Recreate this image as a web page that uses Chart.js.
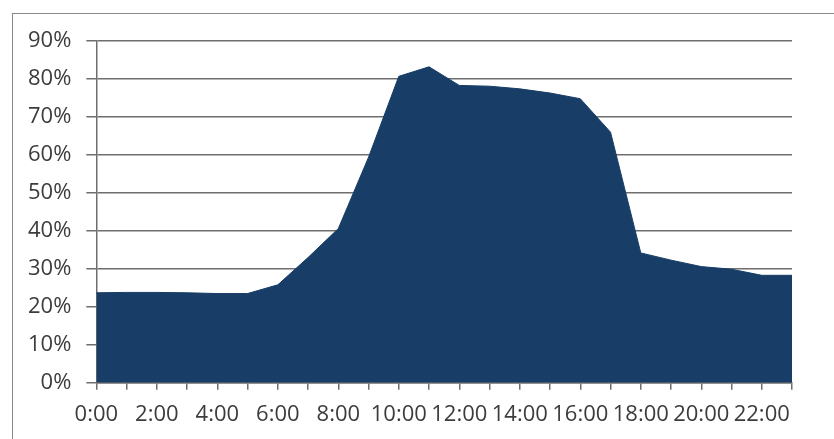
<!DOCTYPE html>
<html>
<head>
<meta charset="utf-8">
<script src="https://cdn.jsdelivr.net/npm/chart.js@4"></script>
<style>
    body { margin: 0; background: #fff; overflow: hidden; }
    #marco {
        position: absolute; left: 12px; top: 13px;
        width: 900px; height: 500px;
        border: 1px solid #8a8a8a;
    }
    #grafica { position: absolute; left: 0; top: 0; }
</style>
</head>
<body>
<div id="marco"></div>
<canvas id="grafica" width="834" height="439"></canvas>
<script>
// Horas del día (una etiqueta cada 2 horas)
const horas = ["0:00", "1:00", "2:00", "3:00", "4:00", "5:00", "6:00", "7:00", "8:00", "9:00", "10:00", "11:00",
    "12:00", "13:00", "14:00", "15:00", "16:00", "17:00", "18:00", "19:00", "20:00", "21:00", "22:00", "23:00"];

// Porcentaje por hora
const porcentajes = [23.7, 23.8, 23.8, 23.7, 23.5, 23.5, 25.8, 33.0, 40.6, 59.4, 80.7, 83.2,
    78.3, 78.1, 77.4, 76.3, 74.8, 66.0, 34.2, 32.3, 30.6, 29.9, 28.3, 28.3];

// Marcas del eje Y
const marcasY = [0, 10, 20, 30, 40, 50, 60, 70, 80, 90];

const colorLinea = '#6e6e6e';
const fuente = { family: 'Open Sans', size: 22 };

const ctx = document.getElementById('grafica');
new Chart(ctx, {
    type: 'line',
    data: {
        labels: horas,
        datasets: [{
            data: porcentajes,
            backgroundColor: '#183e67',
            borderColor: '#183e67',
            borderWidth: 1,
            fill: 'origin',
            pointRadius: 0,
            tension: 0
        }]
    },
    options: {
        responsive: false,
        animation: false,
        layout: { padding: { left: 13, right: 42, top: 41, bottom: 0 } },
        plugins: { legend: { display: false }, tooltip: { enabled: false } },
        scales: {
            x: {
                offset: false,
                grid: { drawOnChartArea: false, drawTicks: true, tickLength: 7, color: colorLinea, lineWidth: 1.5 },
                border: { color: colorLinea, width: 1.5 },
                ticks: {
                    autoSkip: false,
                    maxRotation: 0,
                    padding: 18,
                    color: '#3c3c3c',
                    font: { family: 'Open Sans', size: 22, lineHeight: 0.6 },
                    callback: (v, i) => i % 2 === 0 ? horas[i] : ''
                }
            },
            y: {
                min: marcasY[0],
                max: marcasY[marcasY.length - 1],
                afterBuildTicks: eje => { eje.ticks = marcasY.map(v => ({ value: v })); },
                grid: { color: colorLinea, lineWidth: 1.5, tickLength: 10 },
                border: { color: colorLinea, width: 1.5 },
                ticks: {
                    padding: 15,
                    color: '#3c3c3c',
                    font: fuente,
                    callback: v => v + '%'
                }
            }
        }
    }
});
</script>
</body>
</html>
